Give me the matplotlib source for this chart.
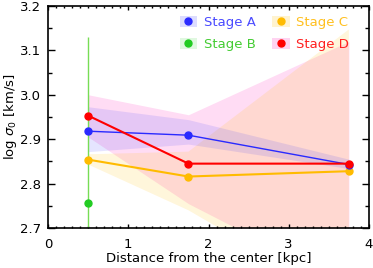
import numpy as np
import matplotlib
matplotlib.use('Agg')
import matplotlib.pyplot as plt
from matplotlib.patches import Patch
from matplotlib.lines import Line2D
from matplotlib.ticker import MultipleLocator

# radial bins [kpc]
r = [0.5, 1.75, 3.75]

# log sigma_0 per stage and the band limits
sig_a = [2.918, 2.909, 2.843]
lo_a = [2.872, 2.889, 2.834]
hi_a = [2.973, 2.944, 2.855]

sig_b = [2.757]
lo_b = [2.60]
hi_b = [3.130]

sig_c = [2.854, 2.816, 2.828]
lo_c = [2.843, 2.740, 2.53]
hi_c = [2.866, 2.872, 3.147]

sig_d = [2.953, 2.845, 2.845]
lo_d = [2.905, 2.755, 2.57]
hi_d = [3.000, 2.955, 3.120]

labels = ['Stage A', 'Stage B', 'Stage C', 'Stage D']
cols = ['#2a2aff', '#22cc22', '#ffbb00', '#ff0000']
txtcols = ['#4a4aff', '#44cc33', '#ffc020', '#ff2020']
fills = ['#3030ff', '#66dd66', '#ffc000', '#ff50c8']
falpha = [0.12, 0.15, 0.14, 0.2]

fig = plt.figure(figsize=(3.73, 2.68), dpi=100)
ax = fig.add_axes([0.129, 0.149, 0.860, 0.829])

ax.fill_between(r, lo_d, hi_d, color=fills[3], alpha=falpha[3], lw=0)
ax.fill_between(r, lo_c, hi_c, color=fills[2], alpha=falpha[2], lw=0)
ax.fill_between(r, lo_a, hi_a, color=fills[0], alpha=falpha[0], lw=0)
ax.vlines(r[0], lo_b[0], hi_b[0], color='#77dd55', lw=1)

ax.plot(r, sig_a, color=cols[0], lw=1, marker='o', ms=5, zorder=5)
ax.plot(r, sig_c, color=cols[2], lw=1.5, marker='o', ms=5, zorder=4)
ax.plot(r, sig_d, color=cols[3], lw=1.5, marker='o', ms=5, zorder=6)
ax.plot(r[:1], sig_b, color=cols[1], lw=0, marker='o', ms=5, zorder=5)

ax.set_xlim(0, 4)
ax.set_ylim(2.7, 3.2)
ax.xaxis.set_major_locator(MultipleLocator(1))
ax.xaxis.set_minor_locator(MultipleLocator(0.1))
ax.yaxis.set_major_locator(MultipleLocator(0.1))
ax.yaxis.set_minor_locator(MultipleLocator(0.05))
ax.yaxis.set_major_formatter(plt.FormatStrFormatter('%.1f'))
ax.tick_params(which='both', direction='in', top=True, right=True,
               labelsize=9.5, width=1)
ax.tick_params(axis='x', which='major', length=3, pad=7)
ax.tick_params(axis='x', which='minor', length=1.5)
ax.tick_params(axis='y', which='major', length=5, pad=5)
ax.tick_params(axis='y', which='minor', length=2.8)
for s in ax.spines.values():
    s.set_linewidth(1.2)

ax.set_xlabel('Distance from the center [kpc]', fontsize=9.5, labelpad=1)
ax.set_ylabel(r'log $\sigma_0$ [km/s]', fontsize=9.5, labelpad=1)

handles = []
for i in range(4):
    p = Patch(facecolor=fills[i], alpha=falpha[i] + 0.05, lw=0)
    m = Line2D([], [], color=cols[i], marker='o', ms=5, lw=0)
    handles.append((p, m))
leg = ax.legend(handles, labels, ncol=2, loc='upper right',
                bbox_to_anchor=(0.955, 0.978), borderaxespad=0, frameon=False,
                fontsize=9.5, handlelength=1.36, handleheight=0.9,
                columnspacing=1.2, labelspacing=0.7, handletextpad=0.5)
for t, c in zip(leg.get_texts(), txtcols):
    t.set_color(c)

fig.savefig('out.png', dpi=100)
